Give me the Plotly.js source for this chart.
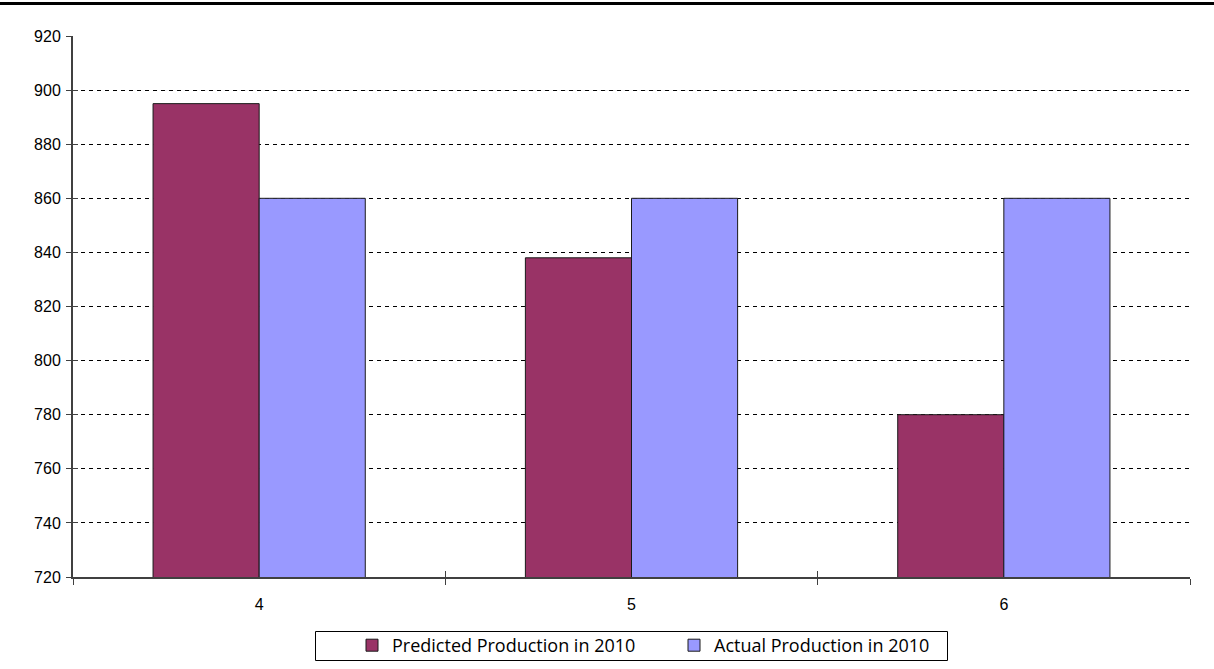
<!DOCTYPE html>
<html>
<head>
<meta charset="utf-8">
<script src="https://cdn.plot.ly/plotly-3.0.1.min.js"></script>
<style>
  html, body { margin: 0; padding: 0; background: #ffffff; }
  #chart { width: 1214px; height: 669px; }
</style>
</head>
<body>
<div id="chart"></div>
<script>
// Production figures by period
const categories = ['4', '5', '6'];
const predicted2010 = [895, 838, 780];
const actual2010 = [860, 860, 860];
const seriesNames = ['Predicted Production in 2010', 'Actual Production in 2010'];
const yTicks = [720, 740, 760, 780, 800, 820, 840, 860, 880, 900, 920];
const gridTicks = [740, 760, 780, 800, 820, 840, 860, 880, 900];

const W = 1214, H = 669;
const M = { l: 73, r: 24, t: 36, b: 92, autoexpand: false };
const plotW = W - M.l - M.r, plotH = H - M.t - M.b;
const yRange = [720, 920];
const xRange = [-0.5, categories.length - 0.5];
// category boundaries, used for the cross ticks on the x axis
const xBounds = categories.map((c, i) => i - 0.5).concat([categories.length - 0.5]);
const axisColor = '#404040';
const labelFont = { family: 'Liberation Sans, Arial, sans-serif', size: 16, color: '#000000' };

// paper-coordinate helpers for decorations
const px2x = px => (px - M.l) / plotW;
const px2y = py => (H - M.b - py) / plotH;

const traces = [
  {
    type: 'bar', name: seriesNames[0], x: categories, y: predicted2010,
    marker: { color: '#993366', line: { color: '#1a1a1a', width: 1 } },
    hoverinfo: 'x+y+name'
  },
  {
    type: 'bar', name: seriesNames[1], x: categories, y: actual2010,
    marker: { color: '#9999FF', line: { color: '#1a1a1a', width: 1 } },
    hoverinfo: 'x+y+name'
  },
  // empty traces that bring the overlay axes (inner tick halves, dashed grid) to life
  { type: 'scatter', x: [], y: [], xaxis: 'x2', yaxis: 'y2', showlegend: false, hoverinfo: 'skip' },
  { type: 'scatter', x: [], y: [], xaxis: 'x2', yaxis: 'y3', showlegend: false, hoverinfo: 'skip' }
];

const layout = {
  width: W, height: H,
  margin: M,
  paper_bgcolor: '#ffffff', plot_bgcolor: 'rgba(0,0,0,0)',
  barmode: 'group', bargap: 0.43, bargroupgap: 0,
  showlegend: true,
  legend: {
    orientation: 'h',
    x: px2x(352), xanchor: 'left',
    y: px2y(627), yanchor: 'top',
    borderwidth: 0,
    bgcolor: 'rgba(0,0,0,0)',
    font: { family: 'Open Sans, Noto Sans, sans-serif', size: 18, color: '#000000' },
    entrywidth: 277,
    itemwidth: 30,
    traceorder: 'normal'
  },
  xaxis: {
    type: 'category', range: xRange, fixedrange: true,
    showline: true, linecolor: axisColor, linewidth: 2,
    ticks: 'outside', ticklen: 6, tickwidth: 1, tickcolor: axisColor,
    tickson: 'boundaries',
    showgrid: false, zeroline: false,
    tickfont: labelFont,
    ticklabelstandoff: 12
  },
  xaxis2: {
    type: 'linear', range: xRange, overlaying: 'x', anchor: 'y', fixedrange: true,
    tickmode: 'array', tickvals: xBounds,
    ticks: 'inside', ticklen: 6, tickwidth: 1, tickcolor: axisColor,
    showticklabels: false, showgrid: false, showline: false, zeroline: false
  },
  yaxis: {
    range: yRange, fixedrange: true,
    tickmode: 'array', tickvals: yTicks,
    showline: true, linecolor: axisColor, linewidth: 2,
    ticks: 'outside', ticklen: 5, tickwidth: 1, tickcolor: axisColor,
    showgrid: false, zeroline: false,
    tickfont: labelFont, ticklabelstandoff: 2
  },
  yaxis2: {
    range: yRange, overlaying: 'y', anchor: 'x2', fixedrange: true,
    tickmode: 'array', tickvals: yTicks,
    ticks: 'inside', ticklen: 5, tickwidth: 1, tickcolor: axisColor,
    showticklabels: false, showgrid: false, showline: false, zeroline: false
  },
  yaxis3: {
    range: yRange, overlaying: 'y', anchor: 'x2', fixedrange: true,
    tickmode: 'array', tickvals: gridTicks,
    ticks: '', showticklabels: false,
    showgrid: true, gridcolor: '#000000', gridwidth: 1, griddash: '4px,4px',
    showline: false, zeroline: false, layer: 'below traces'
  },
  shapes: [
    // rule across the top of the page
    {
      type: 'line', xref: 'paper', yref: 'paper',
      x0: px2x(0), x1: px2x(W), y0: px2y(3.5), y1: px2y(3.5),
      line: { color: '#000000', width: 3 }
    },
    // frame around the legend
    {
      type: 'rect', xref: 'paper', yref: 'paper',
      x0: px2x(315.5), x1: px2x(947.5), y0: px2y(660.5), y1: px2y(631.5),
      line: { color: '#000000', width: 1 }, fillcolor: 'rgba(0,0,0,0)'
    }
  ]
};

Plotly.newPlot('chart', traces, layout, { displayModeBar: false });
</script>
</body>
</html>
